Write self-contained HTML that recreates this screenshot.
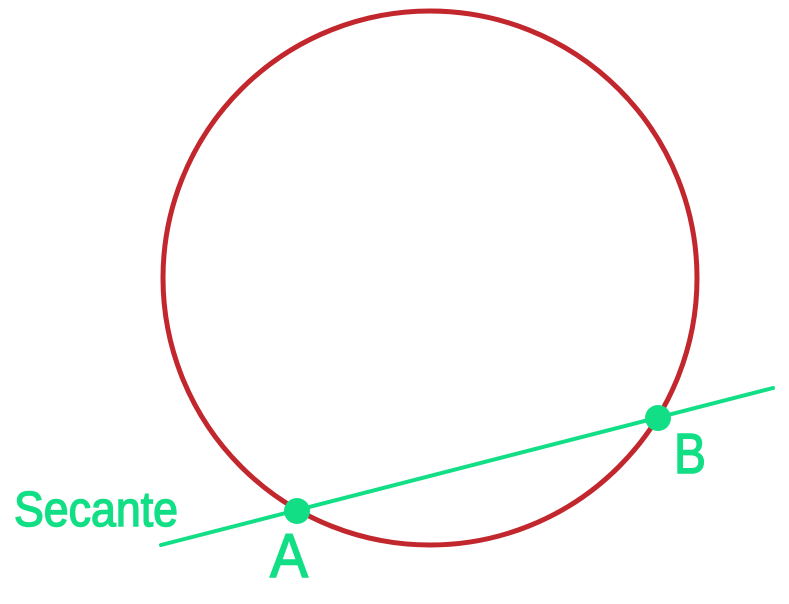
<!DOCTYPE html>
<html><head><style>html,body{margin:0;padding:0;background:#fff}svg{display:block}</style></head>
<body>
<svg width="789" height="604" viewBox="0 0 789 604" xmlns="http://www.w3.org/2000/svg">
<circle cx="430" cy="278" r="267" fill="none" stroke="#c1272d" stroke-width="5"/>
<line x1="161" y1="545" x2="773" y2="388" stroke="#12df85" stroke-width="4" stroke-linecap="round"/>
<circle cx="297" cy="511" r="13" fill="#12df85"/>
<circle cx="658" cy="418" r="13" fill="#12df85"/>
<g fill="#12df85" stroke="#12df85" stroke-width="1.5" font-family="Liberation Sans, sans-serif">
<text x="14" y="526" font-size="49" textLength="164" lengthAdjust="spacingAndGlyphs">Secante</text>
<text x="270" y="577" font-size="62" textLength="38" lengthAdjust="spacingAndGlyphs">A</text>
<text x="674" y="473" font-size="57" textLength="32" lengthAdjust="spacingAndGlyphs">B</text>
</g>
</svg>
</body></html>
